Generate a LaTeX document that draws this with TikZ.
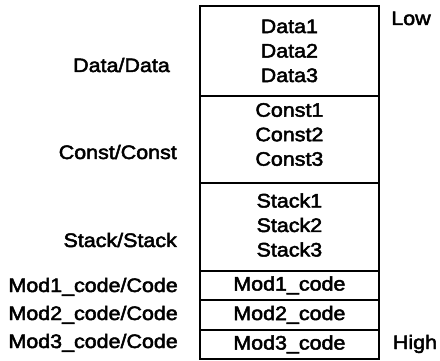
\documentclass[tikz,border=0pt]{standalone}
\usepackage{fontspec}
\newfontfamily\labfont[FakeStretch=1.1,FakeBold=2.5]{Liberation Sans}
\begin{document}
\begin{tikzpicture}[x=1pt,y=-1pt,
  txt/.style={font=\labfont\fontsize{19.5}{24.5}\selectfont, inner sep=0pt},
  seg/.style={txt, draw, line width=1.8pt, minimum width=179pt,
    anchor=north west, align=center},
  lbl/.style={txt, text height=14pt, text depth=0pt}]
\useasboundingbox (0,0) rectangle (440,361);

% memory segments, top (low addresses) to bottom (high addresses)
\node[seg, minimum height=90pt] (data)  at (199,5)   {Data1\\Data2\\Data3};
\node[seg, minimum height=87pt, text depth=10pt] (const) at (199,95)  {Const1\\Const2\\Const3};
\node[seg, minimum height=88pt, text depth=4pt] (stack) at (199,182) {Stack1\\Stack2\\Stack3};
\node[seg, minimum height=29pt] (mod1)  at (199,270) {Mod1\_code};
\node[seg, minimum height=30pt] (mod2)  at (199,299) {Mod2\_code};
\node[seg, minimum height=29pt] (mod3)  at (199,329) {Mod3\_code};

% group/class names
\node[lbl, anchor=east] (ldata)  at (170,65)  {Data/Data};
\node[lbl, anchor=east] (lconst) at (177,152) {Const/Const};
\node[lbl, anchor=east] (lstack) at (177,240) {Stack/Stack};
\node[lbl, anchor=east] (lmod1)  at (178,285) {Mod1\_code/Code};
\node[lbl, anchor=east] (lmod2)  at (178,313) {Mod2\_code/Code};
\node[lbl, anchor=east] (lmod3)  at (178,341) {Mod3\_code/Code};

% address direction
\node[lbl] (low)  at (411,18)  {Low};
\node[lbl] (high) at (415,342) {High};
\end{tikzpicture}
\end{document}
